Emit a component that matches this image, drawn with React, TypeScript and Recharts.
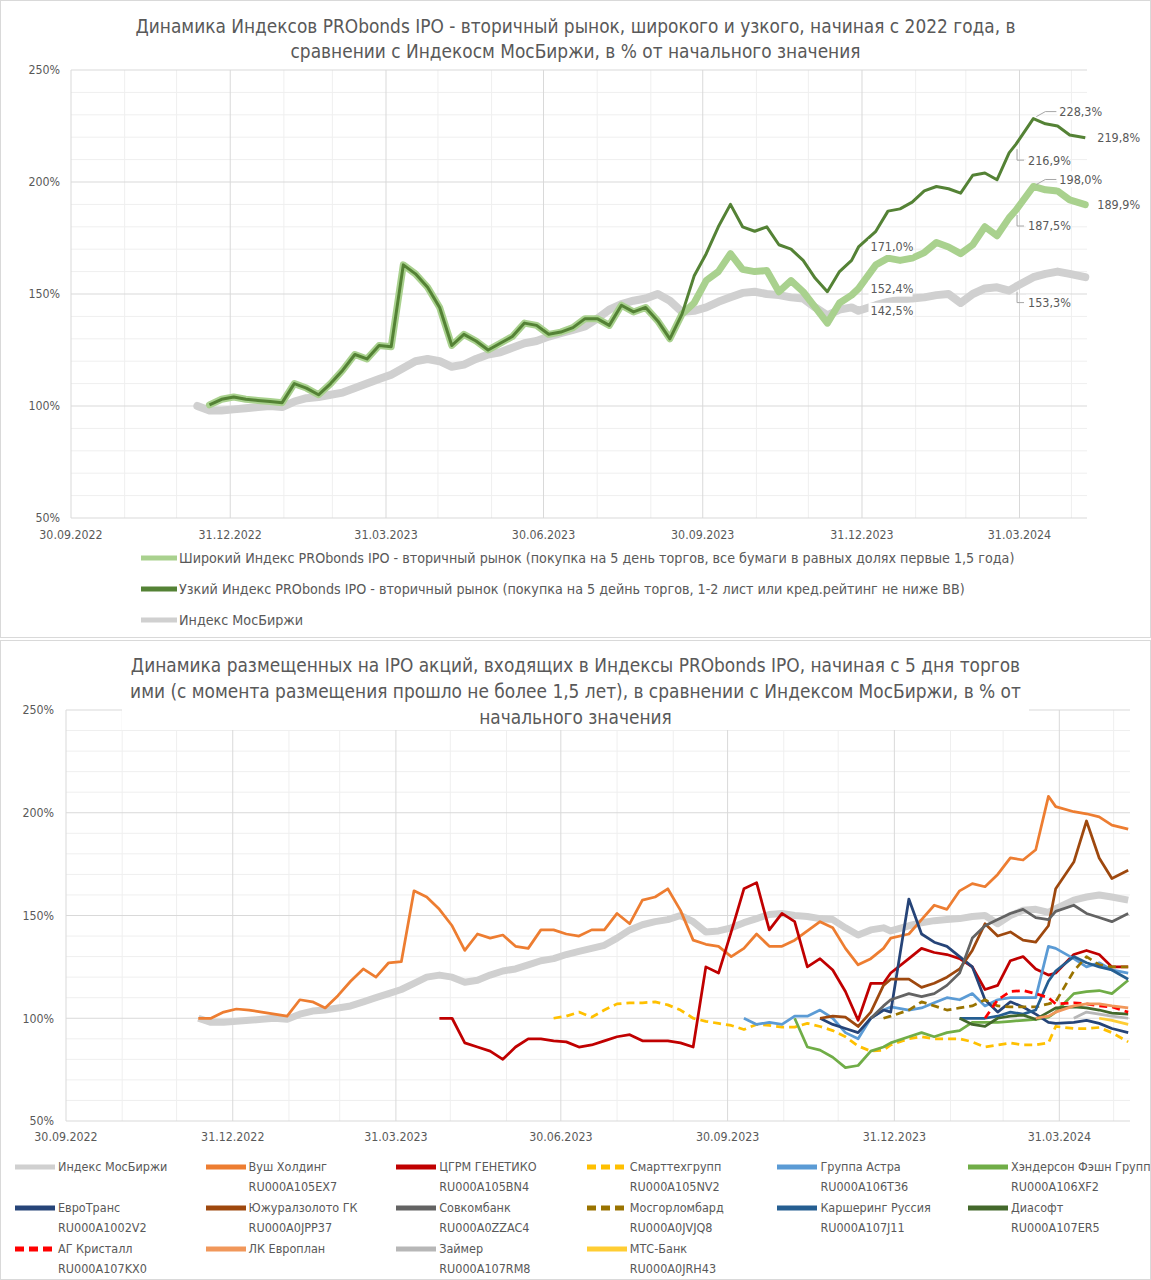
import { LineChart, Line, XAxis, YAxis, CartesianGrid, Legend, LabelList } from 'recharts'

const W = 1151
const FONT = "'Liberation Sans Narrow', 'DejaVu Sans Condensed', Lato, sans-serif"
const TEXT = '#595959'
const MAJOR = '#d9d9d9'
const MINOR = '#efefef'

// weekly observation dates (last trading day of the quarter kept for labels)
const dates = [
  '2022-12-12', '2022-12-19', '2022-12-26', '2023-01-02', '2023-01-09', '2023-01-16', '2023-01-23', '2023-01-30',
  '2023-02-06', '2023-02-13', '2023-02-20', '2023-02-27', '2023-03-06', '2023-03-13', '2023-03-20', '2023-03-27',
  '2023-04-03', '2023-04-10', '2023-04-17', '2023-04-24', '2023-05-01', '2023-05-08', '2023-05-15', '2023-05-22',
  '2023-05-29', '2023-06-05', '2023-06-12', '2023-06-19', '2023-06-26', '2023-07-03', '2023-07-10', '2023-07-17',
  '2023-07-24', '2023-07-31', '2023-08-07', '2023-08-14', '2023-08-21', '2023-08-28', '2023-09-04', '2023-09-11',
  '2023-09-18', '2023-09-25', '2023-10-02', '2023-10-09', '2023-10-16', '2023-10-23', '2023-10-30', '2023-11-06',
  '2023-11-13', '2023-11-20', '2023-11-27', '2023-12-04', '2023-12-11', '2023-12-18', '2023-12-25', '2023-12-29',
  '2024-01-08', '2024-01-15', '2024-01-22', '2024-01-29', '2024-02-05', '2024-02-12', '2024-02-19', '2024-02-26',
  '2024-03-04', '2024-03-11', '2024-03-18', '2024-03-25', '2024-03-29', '2024-04-08', '2024-04-15', '2024-04-22',
  '2024-04-29', '2024-05-08',
]

const mosIndex = [
  100, 98, 98, 98.5, 99, 99.5, 100, 99.5, 102, 103.5,
  104, 105, 106, 108, 110, 112, 114, 117, 120, 121,
  120, 117.5, 118.5, 121, 123, 124, 126, 128, 129, 131,
  132.5, 134, 135.5, 139, 143, 145.5, 147, 148, 150, 147,
  142, 142.5, 144, 146.5, 148.5, 150.5, 151, 150, 149.5, 148.5,
  148, 144, 140.5, 143, 144, 142.5, 145, 146.5, 147.5, 148,
  148.5, 149.5, 150, 146, 150, 152.5, 153, 151.5, 153.3, 157.5,
  159, 160, 159, 157.5,
]

const narrowIdx = [
  null, 100.5, 103, 104, 103, 102.5, 102, 101.5, 110, 108,
  105, 110, 116, 123, 121, 127, 126.5, 163, 159, 153,
  144, 127, 132, 129, 125, 128, 131, 137, 136, 132,
  133, 135, 139, 139, 136, 145, 142, 144, 138, 130,
  141, 158, 168, 180, 190, 180, 178, 180, 172, 170,
  165, 157, 151, 160, 165, 171.0, 178, 187, 188, 191,
  196, 198, 197, 195, 203, 204, 201, 213, 216.9, 228.3,
  226, 225, 221, 219.8,
]

const broadIdx = [
  null, 100.5, 103, 104, 103, 102.5, 102, 101.5, 110, 108,
  105, 110, 116, 123, 121, 127, 126.5, 163, 159, 153,
  144, 127, 132, 129, 125, 128, 131, 137, 136, 132,
  133, 135, 139, 139, 136, 145, 142, 144, 138, 130,
  141, 146, 156, 160, 168, 161, 160, 160.5, 151, 156,
  151, 144, 137, 146, 149.5, 152.4, 163, 166, 165, 166,
  168.5, 173, 171, 168, 172, 180, 176, 184, 187.5, 198.0,
  196.5, 196, 192, 189.9,
]

// leading nulls = weeks before the first trading week of a stock
const after = (n: number, vals: number[]) => [...Array(n).fill(null), ...vals]

const vush = [
  100, 100, 103, 104.5, 104, 103, 102, 101, 109, 108,
  105, 111, 118, 124, 120, 127, 127.5, 162, 159, 153,
  145, 133, 141, 139, 140.5, 135, 134, 143, 143, 141,
  140, 143, 143, 151, 146, 157.5, 159, 163, 152.5, 138,
  136, 135, 130, 134, 141, 135, 135, 138, 142.5, 147,
  144, 134, 126, 129, 134, 139, 141, 148, 155, 153,
  162, 165.5, 164, 170, 178, 177, 182, 208, 203, 200.5,
  199.5, 198, 194, 192,
]
const tsgrm = after(19, [
  100, 100, 88, 86, 84, 80, 86, 90, 90, 89,
  88.5, 86, 87, 89, 91, 92, 89, 89, 89, 88,
  86, 125, 122, 142, 163, 166, 143, 151, 147, 125,
  129, 123.5, 113, 99, 117, 117, 122, 129, 134, 132,
  131, 129, 125, 114, 116, 128, 130, 124, 121, 122,
  131, 133, 131, 125, 125,
])
const smart = after(28, [
  100, 101, 103, 100.5, 104, 107, 107.5, 107.5, 108, 106.5,
  104, 100, 98.5, 97.5, 96.5, 94.5, 97, 96.5, 95.7, 95.7,
  97.5, 96, 94, 91, 86.5, 84, 84.5, 87, 90, 91,
  90, 90, 90, 88.5, 86, 87, 88, 87, 87, 88,
  96, 95, 95, 95.5, 93, 88.5,
])
const astra = after(43, [
  100, 97, 98, 97, 101, 101, 104, 100, 93, 90,
  100, 104, 105.5, 104, 105, 107.5, 110, 109, 112, 106,
  109, 110, 110, 110, 135, 134, 129, 125, 127, 123.5,
  122,
])
const henderson = after(47, [
  100, 86, 84.5, 81, 76, 77, 84, 86, 88, 91,
  93, 91, 93, 94, 98, 98, 98, 98.5, 99, 99.5,
  100.5, 103, 112, 113, 113.5, 112, 118.5,
])
const euroTrans = after(49, [
  100, 97, 95, 93, 100, 104, 103, 158, 141, 137,
  135, 130, 125, 109, 103, 108, 105.5, 102, 98, 97.5,
  98, 99, 97.5, 95, 93,
])
const ugc = after(49, [
  100, 101, 100.5, 96, 103, 116, 119, 119, 115, 117,
  120, 124, 133, 146, 140, 142, 138, 137, 145, 163,
  176, 196, 178, 168, 172,
])
const sovcom = after(53, [
  100, 106, 109, 112, 110.5, 112, 116, 122, 139, 145,
  148, 151, 153, 149, 148, 152, 155, 151, 149, 147,
  151,
])
const mgl = after(54, [
  100, 101, 104, 108, 106, 104, 105, 106, 109, 106,
  105.5, 105.5, 105.5, 107, 108, 123, 130, 126, 125, 125,
])
const carsharing = after(60, [100, 100, 100, 101, 103, 102, 104, 118, 123, 130, 127, 125, 123.5, 119])
const diasoft = after(60, [100, 97, 96, 100, 101, 101.5, 99.5, 103, 105, 105.5, 105, 104, 102.5, 102])
const kristall = after(62, [100, 109, 113, 113.5, 112, 110, 107, 107.5, 107, 106, 105.5, 103])
const europlan = after(66, [100, 101, 103, 106, 107, 107, 106, 105])
const zaimer = after(69, [100, 103, 102, 101, 100])
const mtsBank = after(71, [100, 99, 97])

const quarterDates = ['2022-09-30', '2022-12-31', '2023-03-31', '2023-06-30', '2023-09-30', '2023-12-31', '2024-03-31']
const monthDates = [
  '2022-10-31', '2022-11-30', '2023-01-31', '2023-02-28', '2023-04-30', '2023-05-31', '2023-07-31',
  '2023-08-31', '2023-10-31', '2023-11-30', '2024-01-31', '2024-02-29', '2024-04-30',
]
const pctTicks = [50, 100, 150, 200, 250]
const pctMinor = [60, 70, 80, 90, 110, 120, 130, 140, 160, 170, 180, 190, 210, 220, 230, 240]

const topTitle = [
  'Динамика Индексов PRObonds IPO - вторичный рынок, широкого и узкого, начиная с 2022 года, в',
  'сравнении с Индекосм МосБиржи, в % от начального значения',
]
const bottomTitle = [
  'Динамика размещенных на IPO акций, входящих в Индексы PRObonds IPO, начиная с 5 дня торгов',
  'ими (с момента размещения прошло не более 1,5 лет), в сравнении с Индексом МосБиржи, в % от',
  'начального значения',
]

const topSeries = [
  { key: 'broad', name: 'Широкий Индекс PRObonds IPO - вторичный рынок (покупка на 5 день торгов, все бумаги в равных долях первые 1,5 года)', color: '#a9d18e' },
  { key: 'narrow', name: 'Узкий Индекс PRObonds IPO - вторичный рынок (покупка на 5 дейнь торгов, 1-2 лист или кред.рейтинг не ниже ВВ)', color: '#548235' },
  { key: 'index', name: 'Индекс МосБиржи', color: '#d0d0d0' },
]

const stocks = [
  { key: 'mos', name: 'Индекс МосБиржи', code: '', color: '#d0d0d0', values: mosIndex, dash: false },
  { key: 'vush', name: 'Вуш Холдинг', code: 'RU000A105EX7', color: '#ed7d31', values: vush, dash: false },
  { key: 'tsgrm', name: 'ЦГРМ ГЕНЕТИКО', code: 'RU000A105BN4', color: '#c00000', values: tsgrm, dash: false },
  { key: 'smart', name: 'Смарттехгрупп', code: 'RU000A105NV2', color: '#ffc000', values: smart, dash: true },
  { key: 'astra', name: 'Группа Астра', code: 'RU000A106T36', color: '#5b9bd5', values: astra, dash: false },
  { key: 'hend', name: 'Хэндерсон Фэшн Групп', code: 'RU000A106XF2', color: '#70ad47', values: henderson, dash: false },
  { key: 'euro', name: 'ЕвроТранс', code: 'RU000A1002V2', color: '#264478', values: euroTrans, dash: false },
  { key: 'ugc', name: 'Южуралзолото ГК', code: 'RU000A0JPP37', color: '#9e480e', values: ugc, dash: false },
  { key: 'sovcom', name: 'Совкомбанк', code: 'RU000A0ZZAC4', color: '#636363', values: sovcom, dash: false },
  { key: 'mgl', name: 'Мосгорломбард', code: 'RU000A0JVJQ8', color: '#997300', values: mgl, dash: true },
  { key: 'car', name: 'Каршеринг Руссия', code: 'RU000A107J11', color: '#255e91', values: carsharing, dash: false },
  { key: 'dia', name: 'Диасофт', code: 'RU000A107ER5', color: '#43682b', values: diasoft, dash: false },
  { key: 'kris', name: 'АГ Кристалл', code: 'RU000A107KX0', color: '#ff0000', values: kristall, dash: true },
  { key: 'leas', name: 'ЛК Европлан', code: '', color: '#f1975a', values: europlan, dash: false },
  { key: 'zaim', name: 'Займер', code: 'RU000A107RM8', color: '#b7b7b7', values: zaimer, dash: false },
  { key: 'mts', name: 'МТС-Банк', code: 'RU000A0JRH43', color: '#ffcd33', values: mtsBank, dash: false },
]

// data labels on the upper chart: which dates and how they sit
const labelMode: Record<string, string> = {
  '2023-12-29': 'right',
  '2024-03-29': 'below',
  '2024-04-08': 'peak',
  '2024-05-08': 'end',
}
const lineLabelDates = ['2023-12-29', '2024-03-29', '2024-04-08', '2024-05-08']
const indexLabelDates = ['2023-12-29', '2024-03-29']

const toTime = (d: string) => Date.parse(d + 'T00:00:00Z')
const X_MIN = toTime('2022-09-30')
const X_MAX = toTime('2024-05-09')
const quarterTicks = quarterDates.map(toTime)
const monthLines = monthDates.map(toTime)

function fmtDate(t: number) {
  const d = new Date(t)
  const dd = String(d.getUTCDate()).padStart(2, '0')
  const mm = String(d.getUTCMonth() + 1).padStart(2, '0')
  return `${dd}.${mm}.${d.getUTCFullYear()}`
}
const fmtPct = (v: number) => `${v}%`

const topData = dates.map((d, i) => ({
  t: toTime(d),
  index: mosIndex[i],
  broad: broadIdx[i],
  narrow: narrowIdx[i],
}))

const bottomData = dates.map((d, i) => {
  const row: Record<string, number | null> = { t: toTime(d) }
  stocks.forEach((s) => {
    row[s.key] = s.values[i]
  })
  return row
})

const tickStyle = { fill: TEXT, fontSize: 12.3, fontFamily: FONT }

function makeLabel(keep: string[]) {
  return (p: any) => {
    const vb = p.viewBox || {}
    const x = p.x ?? vb.x
    const y = p.y ?? vb.y
    const d = dates[p.index]
    if (!keep.includes(d) || p.value == null || x == null || y == null || isNaN(y)) return null
    const mode = labelMode[d]
    const txt = Number(p.value).toFixed(1).replace('.', ',') + '%'
    let tx = x + 12
    let ty = y
    let lead: string | null = null
    if (mode === 'below') {
      ty = y + 16
      tx = x + 12
      lead = `M${x + 1},${y + 5} L${x + 1},${ty} L${x + 8},${ty}`
    } else if (mode === 'peak') {
      ty = y - 7
      tx = x + 26
      lead = `M${x + 3},${y - 2} L${x + 12},${ty} L${x + 23},${ty}`
    }
    return (
      <g>
        {lead && <path d={lead} stroke="#a6a6a6" strokeWidth={1} fill="none" />}
        <rect x={tx - 2} y={ty - 8} width={44} height={16} fill="#ffffff" />
        <text x={tx} y={ty} dy="0.35em" fontSize={12.5} fontFamily={FONT} fill={TEXT}>
          {txt}
        </text>
      </g>
    )
  }
}

function Marker({ color, dash }: { color: string; dash?: boolean }) {
  return (
    <svg width={40} height={8} style={{ position: 'absolute', left: 0, top: 6 }}>
      <line x1={0} y1={4} x2={40} y2={4} stroke={color} strokeWidth={5} strokeDasharray={dash ? '9 5' : undefined} />
    </svg>
  )
}

function TopLegend() {
  return (
    <div style={{ position: 'relative', width: W, height: 85, fontFamily: FONT, fontSize: 14.2, color: TEXT }}>
      {topSeries.map((s, i) => (
        <div key={s.key} style={{ position: 'absolute', left: 141, top: i * 31, height: 20, lineHeight: '20px', whiteSpace: 'nowrap' }}>
          <svg width={36} height={8} style={{ position: 'absolute', left: 0, top: 6 }}>
            <line x1={0} y1={4} x2={36} y2={4} stroke={s.color} strokeWidth={5} />
          </svg>
          <span style={{ position: 'absolute', left: 38 }}>{s.name}</span>
        </div>
      ))}
    </div>
  )
}

function BottomLegend() {
  return (
    <div style={{ position: 'relative', width: W, height: 120, fontFamily: FONT, fontSize: 12.5, color: TEXT }}>
      {stocks.map((s, i) => (
        <div
          key={s.key}
          style={{
            position: 'absolute',
            left: 15 + (i % 6) * 190.6,
            top: 6 + Math.floor(i / 6) * 41,
            height: 40,
            lineHeight: '20px',
            whiteSpace: 'nowrap',
          }}
        >
          <Marker color={s.color} dash={s.dash} />
          <div style={{ position: 'absolute', left: 43, top: 0 }}>{s.name}</div>
          <div style={{ position: 'absolute', left: 43, top: 20 }}>{s.code}</div>
        </div>
      ))}
    </div>
  )
}

function Frame() {
  return (
    <div
      style={{
        position: 'absolute',
        inset: 0,
        border: '1px solid #d9d9d9',
        pointerEvents: 'none',
      }}
    />
  )
}

function TopChart() {
  return (
    <div style={{ position: 'relative', width: W, height: 638 }}>
      <LineChart width={W} height={638} data={topData} margin={{ top: 70, right: 64, left: 11, bottom: 5 }}>
        <CartesianGrid stroke={MINOR} verticalValues={monthLines} horizontalValues={pctMinor} />
        <CartesianGrid stroke={MAJOR} verticalValues={quarterTicks} horizontalValues={pctTicks} />
        <XAxis
          dataKey="t"
          type="number"
          domain={[X_MIN, X_MAX]}
          ticks={quarterTicks}
          interval={0}
          tickFormatter={fmtDate}
          tick={tickStyle}
          tickLine={false}
          axisLine={false}
          tickSize={0}
          tickMargin={12}
          height={30}
        />
        <YAxis
          domain={[50, 250]}
          ticks={pctTicks}
          interval={0}
          tickFormatter={fmtPct}
          tick={tickStyle}
          tickLine={false}
          axisLine={false}
          tickSize={0}
          tickMargin={11}
          width={60}
        />
        <Legend verticalAlign="bottom" height={85} wrapperStyle={{ left: 0, width: W }} content={() => <TopLegend />} />
        <Line
          dataKey="index"
          stroke="#d0d0d0"
          strokeWidth={8}
          dot={false}
          strokeLinejoin="round"
          strokeLinecap="round"
          isAnimationActive={false}
        >
          <LabelList content={makeLabel(indexLabelDates)} />
        </Line>
        <Line
          dataKey="broad"
          stroke="#a9d18e"
          strokeWidth={7}
          dot={false}
          strokeLinejoin="round"
          strokeLinecap="round"
          isAnimationActive={false}
        >
          <LabelList content={makeLabel(lineLabelDates)} />
        </Line>
        <Line
          dataKey="narrow"
          stroke="#548235"
          strokeWidth={3}
          dot={false}
          strokeLinejoin="round"
          isAnimationActive={false}
        >
          <LabelList content={makeLabel(lineLabelDates)} />
        </Line>
      </LineChart>
      <div
        style={{
          position: 'absolute',
          left: 0,
          top: 14,
          width: W,
          textAlign: 'center',
          fontFamily: FONT,
          fontSize: 18.9,
          lineHeight: '25px',
          color: TEXT,
        }}
      >
        {topTitle.map((l) => (
          <div key={l}>{l}</div>
        ))}
      </div>
      <Frame />
    </div>
  )
}

function BottomChart() {
  return (
    <div style={{ position: 'relative', width: W, height: 640 }}>
      <LineChart width={W} height={640} data={bottomData} margin={{ top: 70, right: 21, left: 16, bottom: 9 }}>
        <CartesianGrid stroke={MINOR} verticalValues={monthLines} horizontalValues={pctMinor} />
        <CartesianGrid stroke={MAJOR} verticalValues={quarterTicks} horizontalValues={pctTicks} />
        <XAxis
          dataKey="t"
          type="number"
          domain={[X_MIN, X_MAX]}
          ticks={quarterTicks}
          interval={0}
          tickFormatter={fmtDate}
          tick={tickStyle}
          tickLine={false}
          axisLine={false}
          tickSize={0}
          tickMargin={11}
          height={30}
        />
        <YAxis
          domain={[50, 250]}
          ticks={pctTicks}
          interval={0}
          tickFormatter={fmtPct}
          tick={tickStyle}
          tickLine={false}
          axisLine={false}
          tickSize={0}
          tickMargin={12}
          width={50}
        />
        <Legend verticalAlign="bottom" height={120} wrapperStyle={{ left: 0, width: W }} content={() => <BottomLegend />} />
        {stocks.map((s) => (
          <Line
            key={s.key}
            dataKey={s.key}
            name={s.name}
            stroke={s.color}
            strokeWidth={s.key === 'mos' ? 7 : 2.75}
            strokeDasharray={s.dash ? '8 5' : undefined}
            dot={false}
            strokeLinejoin="round"
            isAnimationActive={false}
          />
        ))}
      </LineChart>
      <div
        style={{
          position: 'absolute',
          left: 122,
          top: 12,
          width: 907,
          height: 78,
          background: '#ffffff',
          textAlign: 'center',
          fontFamily: FONT,
          fontSize: 18.9,
          lineHeight: '26px',
          color: TEXT,
        }}
      >
        {bottomTitle.map((l) => (
          <div key={l} style={{ whiteSpace: 'nowrap' }}>{l}</div>
        ))}
      </div>
      <Frame />
    </div>
  )
}

export default function App() {
  return (
    <div style={{ width: W, background: '#ffffff', fontFamily: FONT }}>
      <style>{'html,body{margin:0;padding:0;background:#fff}'}</style>
      <TopChart />
      <div style={{ height: 2 }} />
      <BottomChart />
    </div>
  )
}
